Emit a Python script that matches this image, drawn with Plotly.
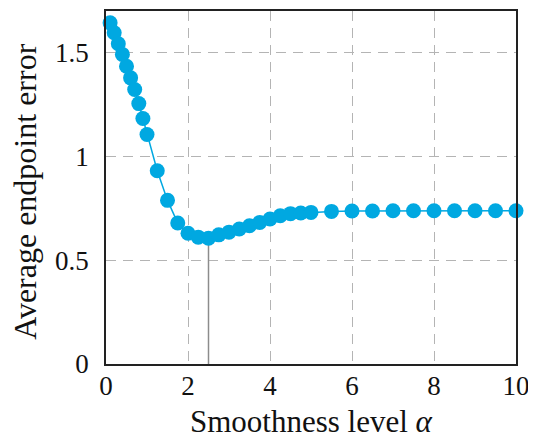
import plotly.graph_objects as go

alpha = [0.1, 0.2, 0.3, 0.4, 0.5, 0.6, 0.7, 0.8, 0.9, 1.0,
         1.25, 1.5, 1.75, 2.0, 2.25, 2.5, 2.75, 3.0, 3.25, 3.5,
         3.75, 4.0, 4.25, 4.5, 4.75, 5.0, 5.5, 6.0, 6.5, 7.0,
         7.5, 8.0, 8.5, 9.0, 9.5, 10.0]
epe = [1.643, 1.595, 1.542, 1.491, 1.434, 1.378, 1.322, 1.254, 1.182, 1.105,
       0.931, 0.788, 0.679, 0.630, 0.611, 0.606, 0.622, 0.635, 0.650, 0.666,
       0.682, 0.698, 0.714, 0.724, 0.727, 0.730, 0.735, 0.737, 0.737, 0.738,
       0.738, 0.738, 0.738, 0.738, 0.738, 0.738]
x_ticks = [0, 2, 4, 6, 8, 10]
y_ticks = [0, 0.5, 1, 1.5]
y_tick_labels = ["0", "0.5", "1", "1.5"]
x_title = "Smoothness level <i>α</i>"
y_title = "Average endpoint error"

imin = epe.index(min(epe))
best_x = alpha[imin]
best_y = epe[imin]

FONT = "Liberation Serif, Times New Roman, serif"
COLOR = "#00A8E1"
TXT = "#111111"

fig = go.Figure()
fig.add_trace(go.Scatter(
    x=[best_x, best_x], y=[0, best_y], mode="lines",
    line=dict(color="#8c8c8c", width=1.5), showlegend=False, hoverinfo="skip"))
fig.add_trace(go.Scatter(
    x=alpha, y=epe, mode="lines+markers",
    line=dict(color=COLOR, width=1.5),
    marker=dict(color=COLOR, size=15, line=dict(width=0)),
    cliponaxis=False, showlegend=False))

axis_common = dict(
    showline=True, linecolor="#222222", linewidth=1.5, mirror=True,
    showgrid=True, gridcolor="#b4b4b4", gridwidth=1.2, griddash="10px,7px",
    zeroline=False, ticks="", automargin=False,
    tickfont=dict(family=FONT, size=27, color=TXT),
)

# the page body has an 8px default margin; the figure is sized to fit the window
fig.update_layout(
    width=528, height=430,
    margin=dict(l=97.5, r=20, t=3, b=74),
    paper_bgcolor="white", plot_bgcolor="white",
    xaxis=dict(range=[0, 10], tickvals=x_ticks, ticklabelstandoff=-3, **axis_common),
    yaxis=dict(range=[0, 1.7], tickvals=y_ticks, ticktext=y_tick_labels,
               ticklabelstandoff=10, **axis_common),
    annotations=[
        dict(text=x_title, xref="paper", yref="paper", x=0.5, y=-0.163,
             xanchor="center", yanchor="middle", showarrow=False,
             font=dict(family=FONT, size=31, color=TXT)),
        dict(text=y_title, xref="paper", yref="paper", x=-0.198, y=0.49,
             xanchor="center", yanchor="middle", showarrow=False, textangle=-90,
             font=dict(family=FONT, size=32, color=TXT)),
    ],
)

fig.write_html("out.html")
